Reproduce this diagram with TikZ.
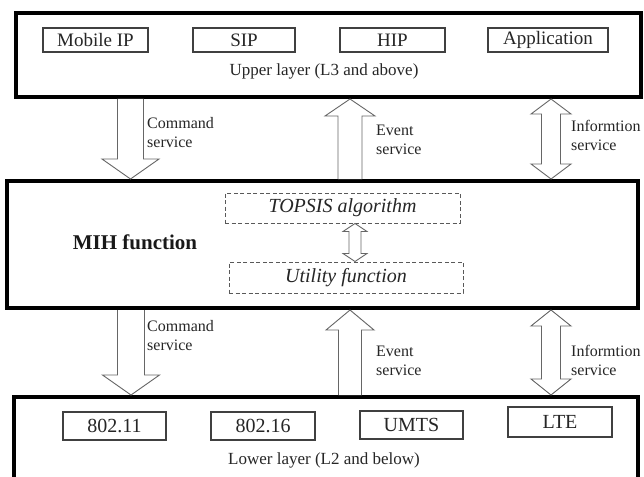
\documentclass[tikz,border=0pt]{standalone}
\usepackage{fontspec}
\setmainfont{Liberation Serif}
\usetikzlibrary{calc}
\newcommand\mydn[6]{\filldraw[blk] let \p1=(#2.south), \p2=(#3.north) in
 (#1pt-#4pt,\y1) -- (#1pt-#4pt,\y2+#6pt) -- (#1pt-#5pt,\y2+#6pt) -- (#1pt,\y2) -- (#1pt+#5pt,\y2+#6pt) -- (#1pt+#4pt,\y2+#6pt) -- (#1pt+#4pt,\y1);}
\newcommand\myup[6]{\filldraw[blk] let \p1=(#2.south), \p2=(#3.north) in
 (#1pt+#4pt,\y2) -- (#1pt+#4pt,\y1-#6pt) -- (#1pt+#5pt,\y1-#6pt) -- (#1pt,\y1) -- (#1pt-#5pt,\y1-#6pt) -- (#1pt-#4pt,\y1-#6pt) -- (#1pt-#4pt,\y2);}
\newcommand\mydbl[6]{\filldraw[blk] let \p1=(#2.south), \p2=(#3.north) in
 (#1pt,\y1) -- (#1pt+#5pt,\y1-#6pt) -- (#1pt+#4pt,\y1-#6pt) -- (#1pt+#4pt,\y2+#6pt) -- (#1pt+#5pt,\y2+#6pt) -- (#1pt,\y2) -- (#1pt-#5pt,\y2+#6pt) -- (#1pt-#4pt,\y2+#6pt) -- (#1pt-#4pt,\y1-#6pt) -- (#1pt-#5pt,\y1-#6pt) -- cycle;}
\begin{document}
\begin{tikzpicture}[x=1pt,y=-1pt,
  layerbox/.style={draw=black, line width=4pt, inner sep=0pt, fill=white},
  protobox/.style={draw=black!75, line width=1.1pt, inner sep=0pt, text=black!85, font=\fontsize{19}{22}\selectfont},
  dashbox/.style={draw=black!65, line width=1pt, dash pattern=on 4pt off 2.5pt, inner sep=0pt, text=black!85, font=\itshape\fontsize{20}{24}\selectfont},
  lbl/.style={font=\fontsize{16}{19}\selectfont, align=left, anchor=west, inner sep=0pt, text=black!85},
  layerlbl/.style={font=\fontsize{17}{20}\selectfont, inner sep=0pt, text=black!85},
  blk/.style={draw=black!60, line width=0.9pt, fill=white, line join=miter}]
\useasboundingbox (0,0) rectangle (644,476);
\clip (0,0) rectangle (644,476);
\fill[white] (0,0) rectangle (644,476);
% layers
\node[layerbox, minimum width=625pt, minimum height=84pt] (upper) at (328.5,55) {};
\node[layerbox, minimum width=631pt, minimum height=127pt] (mih) at (322.5,244.5) {};
\node[layerbox, minimum width=624pt, minimum height=103pt] (lower) at (326,448.5) {};
% upper contents
\node[protobox, minimum width=105pt, minimum height=24pt] (mip) at (95.5,40) {Mobile IP};
\node[protobox, minimum width=102pt, minimum height=24pt] (sip) at (244,40) {SIP};
\node[protobox, minimum width=105pt, minimum height=24pt] (hip) at (392.5,40) {HIP};
\node[protobox, minimum width=120pt, minimum height=24pt] (app) at (548,40) {Application};
\node[layerlbl] (uplbl) at (324,71) {Upper layer (L3 and above)};
% MIH contents
\node[font=\bfseries\fontsize{21}{24}\selectfont, inner sep=0pt, text=black!90] (mihlbl) at (135,242) {MIH function};
\node[dashbox, minimum width=235pt, minimum height=30pt] (topsis) at (342.5,208) {TOPSIS algorithm};
\node[dashbox, minimum width=234pt, minimum height=31pt] (util) at (346,277.5) {Utility function};
% lower contents
\node[protobox, font=\fontsize{20}{24}\selectfont, minimum width=103pt, minimum height=28pt] (w11) at (114.5,426) {802.11};
\node[protobox, font=\fontsize{20}{24}\selectfont, minimum width=104pt, minimum height=28pt] (w16) at (263,426) {802.16};
\node[protobox, font=\fontsize{20}{24}\selectfont, minimum width=103pt, minimum height=28pt] (umts) at (411.5,425) {UMTS};
\node[protobox, font=\fontsize{20}{24}\selectfont, minimum width=104pt, minimum height=30pt] (lte) at (560,422) {LTE};
\node[layerlbl] (lowlbl) at (324,460) {Lower layer (L2 and below)};
% arrows
\mydn{130.5}{upper}{mih}{13}{28.5}{20}
\myup{350}{upper}{mih}{12}{25}{17}
\mydbl{551}{upper}{mih}{9.5}{20}{15}
\mydn{131}{mih}{lower}{13.5}{28.5}{20}
\myup{350}{mih}{lower}{11.5}{24}{20}
\mydbl{551}{mih}{lower}{9.5}{20}{16}
\mydbl{355}{topsis}{util}{6}{12}{8}
% labels
\node[lbl] (c1) at (147,133) {Command\\service};
\node[lbl] (e1) at (376,140) {Event\\service};
\node[lbl] (i1) at (571,135) {Informtion\\service};
\node[lbl] (c2) at (147,336) {Command\\service};
\node[lbl] (e2) at (376,361) {Event\\service};
\node[lbl] (i2) at (571,360) {Informtion\\service};
\end{tikzpicture}
\end{document}
